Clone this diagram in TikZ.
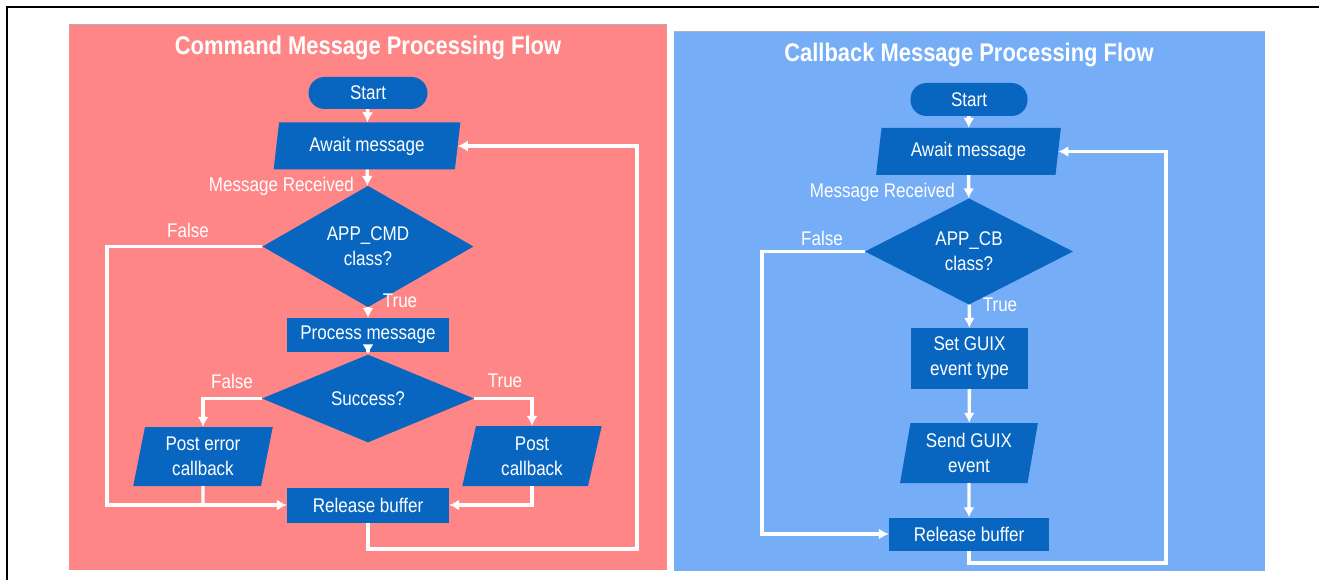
\documentclass[tikz,border=0pt]{standalone}
\usepackage{fontspec}
\setmainfont{Liberation Sans}[FakeStretch=0.86]
\usetikzlibrary{calc,shapes,arrows.meta}
\definecolor{cmdred}{HTML}{FF8686}
\definecolor{cbblue}{HTML}{75AEF7}
\definecolor{boxblue}{HTML}{0866C0}
\tikzset{
  box/.style={draw=none,fill=boxblue,text=white,align=center,inner sep=0pt,
    font=\fontsize{19.8}{25}\selectfont},
  term/.style={box,rectangle,rounded corners=16pt},
  task/.style={box,rectangle},
  io/.style={box,trapezium,trapezium left angle=79,trapezium right angle=101,
    trapezium stretches=true},
  cond/.style={box,diamond},
  flow/.style={draw=white,line width=3.4pt,-{Latex[length=10pt,width=11pt]}},
  wire/.style={draw=white,line width=3.4pt},
  lbl/.style={text=white,inner sep=0pt,font=\fontsize{19.8}{25}\selectfont},
  heading/.style={text=white,inner sep=0pt,font=\bfseries\fontsize{25.5}{30}\selectfont}
}
\begin{document}
\begin{tikzpicture}[x=1pt,y=-1pt]
    \useasboundingbox (0,0) rectangle (1319,580);
    \draw[line width=2pt] (7,580) -- (7,7.5) -- (1319,7.5);
    \fill[cmdred] (69,24) rectangle (667,570);
    \fill[cbblue] (674,31) rectangle (1265,571);
    \draw[gray!60] (69,24.5) -- (667,24.5);
    \draw[gray!60] (674,31.5) -- (1265,31.5);

    % command message flow
    \node[heading] (cmdtitle) at (368,48) {Command Message Processing Flow};
    \node[term,minimum width=119pt,minimum height=32pt] (start) at (368,93) {Start};
    \node[io,minimum width=187pt,minimum height=47pt] (await) at (367,146) {Await message};
    \node[cond,minimum width=211pt,minimum height=83pt] (cls) at (368,246.5) {APP\_CMD\\class?};
    \node[task,minimum width=162pt,minimum height=34pt] (handle) at (368,335) {Process message};
    \node[cond,minimum width=212pt,minimum height=63pt] (ok) at (368,398.5) {Success?};
    \node[io,minimum width=140pt,minimum height=59pt] (perr) at (203,456.5) {Post error\\callback};
    \node[io,minimum width=140pt,minimum height=60pt] (pcb) at (532,456) {Post\\callback};
    \node[task,minimum width=162pt,minimum height=35pt] (rel) at (368,505) {Release buffer};
    \coordinate (cmdfalse) at (107,505);
    \coordinate (cmdloop) at (637,549);

    \node[lbl,anchor=east] (rcvd) at (354,186) {Message Received};
    \node[lbl] (clsno) at (188,230) {False};
    \node[lbl] (clsyes) at (400,301) {True};
    \node[lbl] (okno) at (232,381) {False};
    \node[lbl] (okyes) at (505,381) {True};

    \draw[flow] (start) -- (await);
    \draw[flow] (await) -- (cls);
    \draw[flow] (cls) -- (handle);
    \draw[flow] (handle) -- (ok);
    \draw[flow] (ok.west) -| (perr);
    \draw[flow] (ok.east) -| (pcb);
    \draw[flow] (pcb) |- (rel);
    \draw[wire] (perr) -- (perr |- rel);
    \draw[flow] (cls.west) -| (cmdfalse) -- (rel);
    \draw[flow] (rel) |- (cmdloop) |- (await);

    % callback message flow
    \node[heading] (cbtitle) at (969,55) {Callback Message Processing Flow};
    \node[term,minimum width=117pt,minimum height=33pt] (start2) at (969,99.5) {Start};
    \node[io,minimum width=185pt,minimum height=47pt] (await2) at (968.5,151.5) {Await message};
    \node[cond,minimum width=208pt,minimum height=83pt] (cls2) at (969,251.5) {APP\_CB\\class?};
    \node[task,minimum width=117pt,minimum height=61pt] (setev) at (969.5,358.5) {Set GUIX\\event type};
    \node[io,minimum width=138pt,minimum height=60pt] (sendev) at (969,453) {Send GUIX\\event};
    \node[task,minimum width=160pt,minimum height=33pt] (rel2) at (969,534) {Release buffer};
    \coordinate (cbfalse) at (762,534);
    \coordinate (cbloop) at (1166,563);

    \node[lbl,anchor=east] (rcvd2) at (955,192) {Message Received};
    \node[lbl] (clsno2) at (822,238) {False};
    \node[lbl] (clsyes2) at (1000,305) {True};

    \draw[flow] (start2) -- (await2);
    \draw[flow] (await2) -- (cls2);
    \draw[flow] (cls2) -- (setev);
    \draw[flow] (setev) -- (sendev);
    \draw[flow] (sendev) -- (rel2);
    \draw[flow] (cls2.west) -| (cbfalse) -- (rel2);
    \draw[flow] (rel2) |- (cbloop) |- (await2);
\end{tikzpicture}
\end{document}
